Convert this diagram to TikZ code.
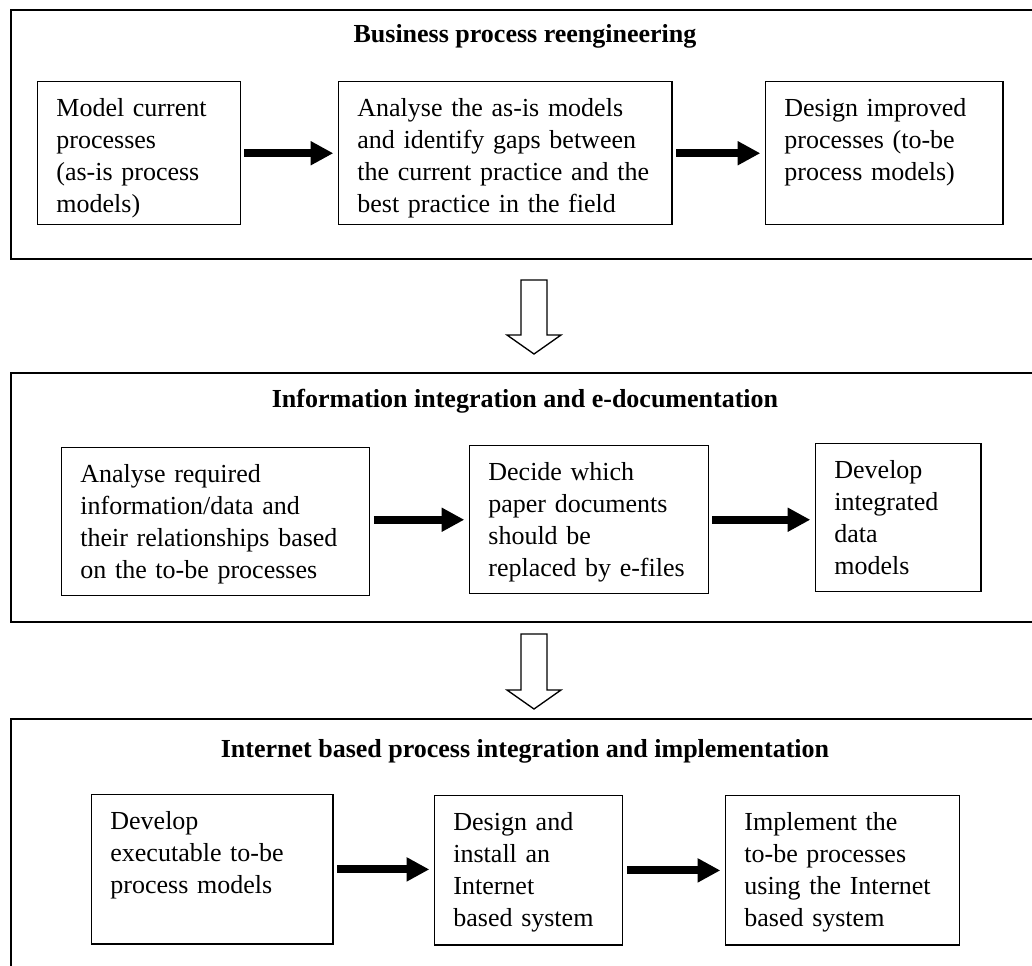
\documentclass[tikz,border=0pt]{standalone}
\usepackage{fontspec}
\setmainfont{Liberation Serif}
\usetikzlibrary{arrows.meta}
\usetikzlibrary{calc}
\newcommand{\boxfont}{\fontsize{19.5}{24}\selectfont}

\begin{document}
\begin{tikzpicture}[x=0.75pt,y=-0.75pt]
\tikzstyle{every node}=[font=\boxfont]
\tikzstyle{phase}=[draw,line width=1.5pt,anchor=north west,minimum width=784.5pt,inner sep=0pt]
\tikzstyle{phasetitle}=[anchor=base,font=\boxfont\bfseries,inner sep=0pt]
\tikzstyle{task}=[draw,line width=1.1pt,anchor=north west,align=left,inner xsep=14pt,inner ysep=0pt,text height=26pt]
\tikzstyle{thick arrow}=[line width=6pt,-{Triangle[length=17pt,width=17pt]},shorten <=2.5pt,shorten >=3.5pt]
\tikzstyle{hollow arrow}=[draw,line width=1pt,fill=white,line join=miter]
\useasboundingbox (0,0) rectangle (1032,965);
\clip (0,0) rectangle (1032,965);
% business process reengineering
\node[phase,minimum height=186.75pt] (bpr) at (10,9) {};
\node[phasetitle] (bprtitle) at (525,42) {Business process reengineering};
\node[task,text width=124pt,text depth=81.25pt] (asis) at (37,81) {Model current\\processes\\(as-is process\\models)};
\node[task,text width=222pt,text depth=81.25pt] (gaps) at (338,81) {Analyse the as-is models\\and identify gaps between\\the current practice and the\\best practice in the field};
\node[task,text width=150pt,text depth=81.25pt] (tobe) at (765,81) {Design improved\\processes (to-be\\process models)};
\draw[thick arrow] (asis.east) -- (gaps.west);
\draw[thick arrow] (gaps.east) -- (tobe.west);
% information integration
\node[phase,minimum height=186.75pt] (iie) at (10,372) {};
\node[phasetitle] (iietitle) at (525,407) {Information integration and e-documentation};
\node[task,text width=203pt,text depth=85pt] (req) at (61,447) {Analyse required\\information/data and\\their relationships based\\on the to-be processes};
\node[task,text width=151pt,text depth=85pt] (paper) at (469,445) {Decide which\\paper documents\\should be\\replaced by e-files};
\node[task,text width=96pt,text depth=85pt] (datamod) at (815,443) {Develop\\integrated\\data\\models};
\draw[thick arrow] (paper.west -| req.east) -- (paper.west);
\draw[thick arrow] (paper.east) -- (paper.east -| datamod.west);
% internet based implementation
\node[phase,minimum height=195pt] (ibp) at (10,718) {};
\node[phasetitle] (ibptitle) at (525,757) {Internet based process integration and implementation};
\node[task,text width=153pt,text depth=86pt] (exec) at (91,794) {Develop\\executable to-be\\process models};
\node[task,text width=113pt,text depth=86pt] (install) at (434,795) {Design and\\install an\\Internet\\based system};
\node[task,text width=147.5pt,text depth=86pt] (implement) at (725,795) {Implement the\\to-be processes\\using the Internet\\based system};
\draw[thick arrow] (exec.east) -- (exec.east -| install.west);
\draw[thick arrow] (install.east) -- (install.east -| implement.west);
% hollow arrows between phases
\foreach \from/\to/\gapa/\gapb in {bpr/iie/20/18,iie/ibp/11/9}{
  \coordinate (top) at ($(\from.south)+(0,\gapa)$);
  \coordinate (tip) at ($(\to.north)+(0,-\gapb)$);
  \draw[hollow arrow] ($(top)+(-13,0)$) -- ($(top)+(13,0)$) -- ($(tip)+(13,-19)$)
    -- ($(tip)+(27,-19)$) -- (tip) -- ($(tip)+(-27,-19)$) -- ($(tip)+(-13,-19)$) -- cycle;
}
\end{tikzpicture}
\end{document}
